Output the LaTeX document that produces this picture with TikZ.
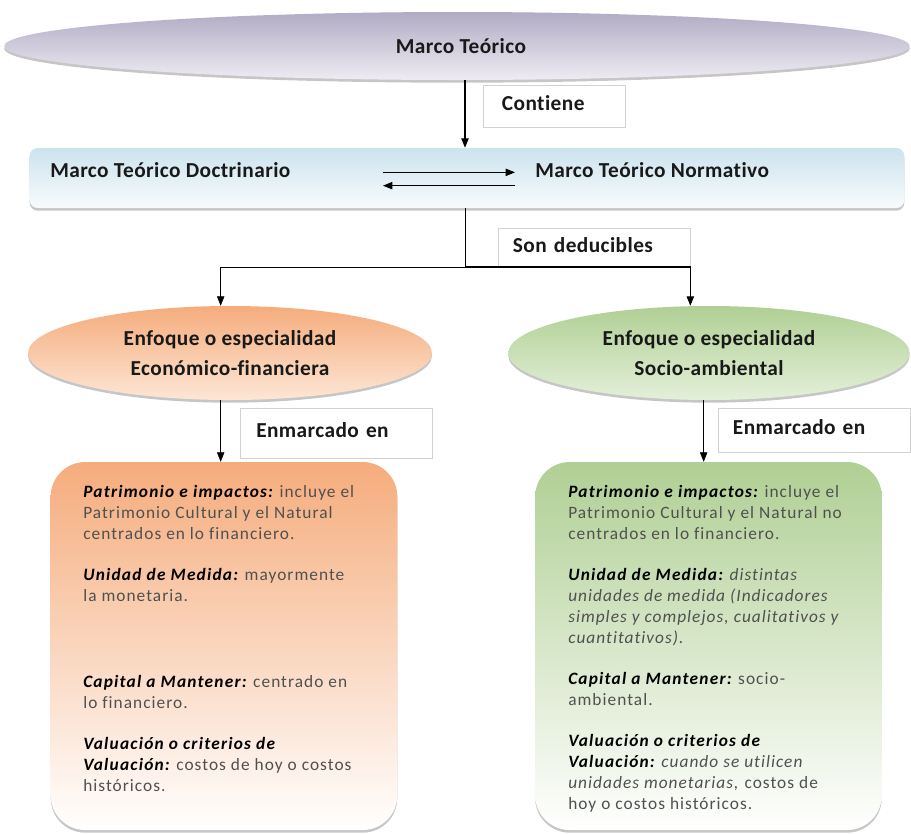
\documentclass[tikz,border=0pt]{standalone}
\usepackage{fontspec}
\setmainfont{Carlito}
\newfontfamily\titulofont[LetterSpace=2, Ligatures=CommonOff]{Carlito}
\newfontfamily\cajafont[LetterSpace=6, Ligatures=CommonOff]{Carlito}
\newfontfamily\campofont[LetterSpace=7, Ligatures=CommonOff]{Carlito}
\usepackage{xcolor}
\usetikzlibrary{positioning,shapes.geometric,arrows.meta,shadows}

\definecolor{lilaA}{RGB}{178,171,196}
\definecolor{lilaB}{RGB}{238,236,243}
\definecolor{celesteA}{RGB}{204,227,238}
\definecolor{celesteB}{RGB}{248,251,253}
\definecolor{naranjaA}{RGB}{245,172,124}
\definecolor{naranjaB}{RGB}{253,230,214}
\definecolor{verdeA}{RGB}{176,207,148}
\definecolor{verdeB}{RGB}{228,240,218}
\definecolor{textogris}{RGB}{80,80,80}

\newcommand{\campo}[1]{\textcolor{black}{\campofont\bfseries\itshape #1}}

\begin{document}
\begin{tikzpicture}[
    x=0.75pt, y=-0.75pt,
    >={Triangle[length=7pt,width=5.5pt]},
    every node/.style={font=\titulofont\bfseries\fontsize{16}{19}\selectfont, text=black!90},
    sombra/.style={drop shadow={opacity=0.45, shadow xshift=0pt, shadow yshift=-2pt}},
    elipse/.style={ellipse, sombra, inner sep=0pt, align=center},
    etiqueta/.style={draw=gray!35, fill=white, align=left, anchor=north west, inner xsep=12pt, text height=11pt, text depth=4pt},
    caja/.style={rectangle, rounded corners=26pt, sombra, minimum width=260pt, minimum height=276pt},
    cajatexto/.style={anchor=north west, inner sep=0pt, align=left, text=textogris, font=\cajafont\fontsize{13}{15.75}\selectfont}
]
    \useasboundingbox (0,0) rectangle (911,833);

    % Nivel superior
    \node[elipse, top color=lilaA, bottom color=lilaB, minimum width=679pt, minimum height=51pt] (marco) at (457,46) {\hspace*{6pt}Marco Teórico};
    \node[rectangle, rounded corners=6pt, sombra, top color=celesteA, bottom color=celesteB, minimum width=656pt, minimum height=45pt] (marcos) at (467,178) {};
    \node[anchor=west, inner sep=0pt] (doctrina) at (50,170) {Marco Teórico Doctrinario};
    \node[anchor=west, inner sep=0pt] (normativo) at (535,170) {Marco Teórico Normativo};
    \coordinate (flechaI) at (383,179);
    \coordinate (flechaD) at (515,179);

    % Etiquetas de los conectores
    \node[etiqueta, inner xsep=14pt, text width=78.5pt, minimum height=31.5pt] (contiene) at (483,85) {Contiene};
    \node[etiqueta, inner xsep=11pt, text width=122pt, minimum height=29pt] (deducibles) at (498,228) {Son deducibles};
    \node[etiqueta, text width=120pt, minimum height=37.5pt] (enmarcadoI) at (240,408) {Enmarcado en};
    \node[etiqueta, inner xsep=11pt, text width=122pt, minimum height=33pt] (enmarcadoD) at (718,408) {Enmarcado en};

    % Enfoques
    \node[elipse, top color=naranjaA, bottom color=naranjaB, minimum width=303pt, minimum height=70.5pt] (econ) at (230,353)
        {Enfoque o especialidad\\[3.5pt]Económico-financiera};
    \node[elipse, top color=verdeA, bottom color=verdeB, minimum width=301pt, minimum height=70.5pt] (socio) at (709,353)
        {Enfoque o especialidad\\[3.5pt]Socio-ambiental};

    % Cajas de contenido
    \node[caja, top color=naranjaA, bottom color=white] (econcaja) at (224,646) {};
    \node[caja, top color=verdeA, bottom color=white] (sociocaja) at (708.5,646) {};

    \node[cajatexto] (econtexto) at (83,485) {%
        \campo{Patrimonio e impactos:} incluye el\\
        Patrimonio Cultural y el Natural\\
        centrados en lo financiero.\\[15pt]
        \campo{Unidad de Medida:} mayormente\\
        la monetaria.\\[49pt]
        \campo{Capital a Mantener:} centrado en\\
        lo financiero.\\[15pt]
        \campo{Valuación o criterios de}\\
        \campo{Valuación:} costos de hoy o costos\\
        históricos.};
    \node[cajatexto] (sociotexto) at (568,485) {%
        \campo{Patrimonio e impactos:} incluye el\\
        Patrimonio Cultural y el Natural no\\
        centrados en lo financiero.\\[15pt]
        \campo{Unidad de Medida:} \textit{distintas}\\
        \textit{unidades de medida (Indicadores}\\
        \textit{simples y complejos, cualitativos y}\\
        \textit{cuantitativos).}\\[15pt]
        \campo{Capital a Mantener:} socio-\\
        ambiental.\\[15pt]
        \campo{Valuación o criterios de}\\
        \campo{Valuación:} \textit{cuando se utilicen}\\
        \textit{unidades monetarias,} costos de\\
        hoy o costos históricos.};

    % Conectores
    \draw[->, thick] ([xshift=6pt]marco.south) -- ([xshift=6pt]marco.south |- marcos.north);
    \draw[->, thick] ([yshift=5pt]flechaI) -- ([yshift=5pt]flechaD);
    \draw[->, thick] ([yshift=-5pt]flechaD) -- ([yshift=-5pt]flechaI);
    \coordinate (rama) at (465,267);
    \draw (marcos.south -| rama) -- (rama);
    \draw[->] (rama) -| ([xshift=-7pt]econ.north);
    \draw[->, thick] (rama) -| ([xshift=-14pt]socio.north);
    \draw[->] ([xshift=-7pt]econ.south) -- ([xshift=-7pt]econ.south |- econcaja.north);
    \draw[->] ([xshift=-4pt]socio.south) -- ([xshift=-4pt]socio.south |- sociocaja.north);
\end{tikzpicture}
\end{document}
